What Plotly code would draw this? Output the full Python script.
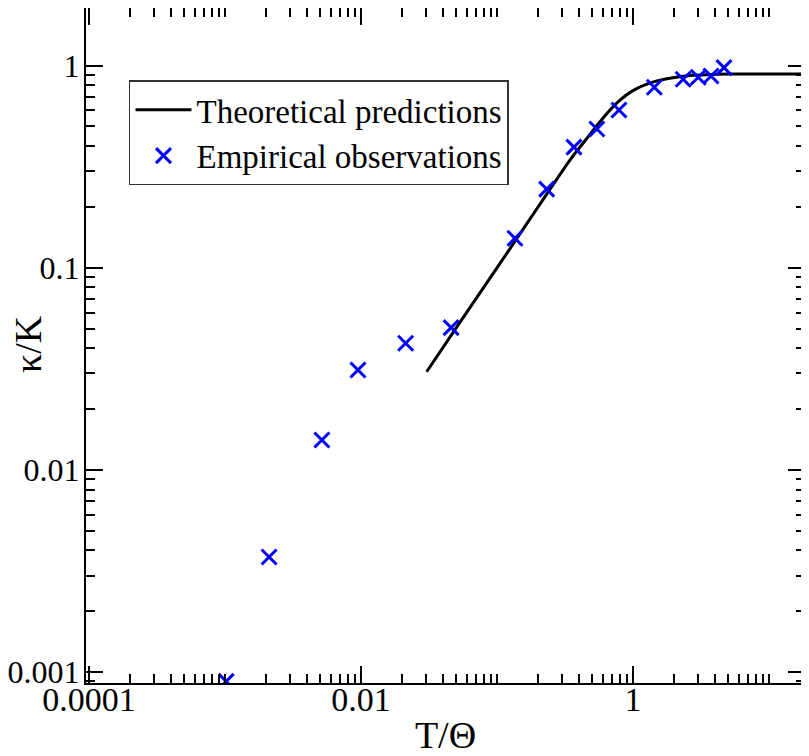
import numpy as np
import plotly.graph_objects as go

# Empirical observations (T/Theta, kappa/K)
obs_x = [0.00102, 0.00211, 0.00516, 0.0095, 0.0213, 0.046, 0.1356, 0.232, 0.368,
         0.543, 0.789, 1.435, 2.34, 3.02, 3.75, 4.67]
obs_y = [0.0009, 0.00371, 0.01406, 0.0312, 0.0423, 0.0506, 0.140, 0.245, 0.395,
         0.486, 0.603, 0.782, 0.856, 0.876, 0.889, 0.977]

# Theoretical predictions
th_x = [0.0304, 0.05, 0.1, 0.2, 0.344, 0.45, 0.572, 0.759, 1.0, 1.435, 2.34, 3.68,
        5.43, 10.0, 18.4]
th_y = [0.0306, 0.0503, 0.0999, 0.1992, 0.341, 0.43, 0.528, 0.652, 0.752, 0.833,
        0.887, 0.905, 0.909, 0.91, 0.91]

x_major = [1e-4, 1e-2, 1]
x_major_text = ["0.0001", "0.01", "1"]
y_major = [1e-3, 1e-2, 1e-1, 1]
y_major_text = ["0.001", "0.01", "0.1", "1"]

x_minor = []
for d in range(-4, 2):
    for m in range(1, 10):
        v = m * 10.0 ** d
        if m == 1 and d in (-4, -2, 0):
            continue
        x_minor.append(v)
y_minor = []
for d in range(-4, 1):
    for m in range(2, 10):
        y_minor.append(m * 10.0 ** d)

FONT = "Liberation Serif"

fig = go.Figure()
fig.add_trace(go.Scatter(x=th_x, y=th_y, mode="lines", name="Theoretical predictions",
                         line=dict(color="black", width=3, shape="spline", smoothing=0.8)))
fig.add_trace(go.Scatter(x=obs_x, y=obs_y, mode="markers", name="Empirical observations",
                         marker=dict(symbol="x-thin", size=15, color="#0000ff",
                                     line=dict(color="#0000ff", width=3))))

axis_common = dict(type="log", showgrid=False, zeroline=False, showline=True,
                   linecolor="black", linewidth=2, mirror="ticks", ticks="inside",
                   ticklen=17, tickwidth=1.5, tickcolor="black")

fig.update_xaxes(**axis_common, range=[-4.022, 1.265], tickmode="array",
                 tickvals=x_major, ticktext=x_major_text, ticklabelstandoff=-15,
                 tickfont=dict(family=FONT, size=34, color="black"),
                 minor=dict(tickmode="array", tickvals=x_minor, ticks="inside",
                            ticklen=9, tickwidth=1.5, tickcolor="black"),
                 title=dict(text="T/Θ", font=dict(family=FONT, size=38, color="black"),
                            standoff=10))
fig.update_yaxes(**axis_common, range=[-3.054, 0.285], tickmode="array",
                 tickvals=y_major, ticktext=y_major_text, ticklabelstandoff=-2,
                 tickfont=dict(family=FONT, size=32, color="black"),
                 minor=dict(tickmode="array", tickvals=y_minor, ticks="inside",
                            ticklen=9, tickwidth=1.5, tickcolor="black"))

fig.add_annotation(text="κ/K", xref="paper", yref="paper", x=-0.08, y=0.503,
                   xanchor="center", yanchor="middle", textangle=-90, showarrow=False,
                   font=dict(family=FONT, size=38, color="black"))

fig.update_layout(
    width=801, height=748,
    margin=dict(l=78, r=4, t=0, b=73, autoexpand=False),
    plot_bgcolor="white", paper_bgcolor="white",
    showlegend=True,
    legend=dict(x=0.0598, y=0.893, xanchor="left", yanchor="top",
                bgcolor="white", bordercolor="#333333", borderwidth=1.5,
                itemwidth=56,
                font=dict(family=FONT, size=33, color="black")),
)

fig.write_html("out.html")
